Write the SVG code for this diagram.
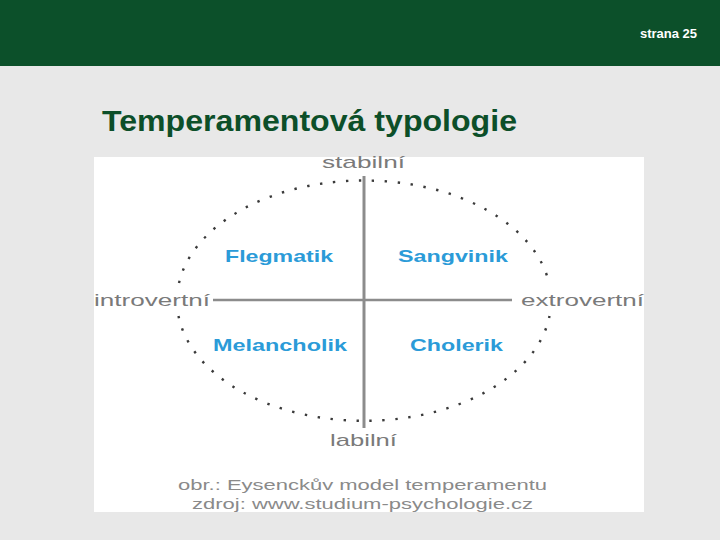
<svg xmlns="http://www.w3.org/2000/svg" width="720" height="540" viewBox="0 0 720 540">
<style>
.lbl{font-family:"Liberation Sans",Arial,sans-serif;font-size:17px;fill:#7a7a7a;}
.typ{font-family:"Liberation Sans",Arial,sans-serif;font-size:17px;font-weight:bold;fill:#2b9bd8;}
.cap{font-family:"Liberation Sans",Arial,sans-serif;font-size:15px;fill:#8a8a8a;}
.axis{stroke:#8c8c8c;fill:none;}
.dots{fill:none;stroke:#3a3a3a;stroke-width:2.4;stroke-dasharray:2.4 10.6;}
</style>
<rect x="0" y="0" width="720" height="540" fill="#e8e8e8"/>
<rect x="0" y="0" width="720" height="66" fill="#0c502a"/>
<text x="697" y="38" text-anchor="end" font-family="Liberation Sans,Arial,sans-serif" font-size="13" font-weight="bold" fill="#ffffff">strana 25</text>
<text x="102" y="131" font-family="Liberation Sans,Arial,sans-serif" font-size="29" font-weight="bold" fill="#0c4f29" textLength="415" lengthAdjust="spacingAndGlyphs">Temperamentová typologie</text>
<rect x="94" y="157" width="550" height="355" fill="#ffffff"/>
<g id="ellipse">
<path class="dots" d="M179,283 A187,120 0 0 1 549,283"/>
<path class="dots" d="M178.5,316 A187,120 0 0 0 549.5,316"/>
</g>
<g id="connectors">
<line class="axis" x1="364" y1="176" x2="364" y2="428" stroke-width="3"/>
<line class="axis" x1="213" y1="300" x2="512" y2="300" stroke-width="2.5"/>
</g>
<g id="stabilni"><text class="lbl" x="322" y="168" textLength="83" lengthAdjust="spacingAndGlyphs">stabilní</text></g>
<g id="labilni"><text class="lbl" x="330" y="446" textLength="67" lengthAdjust="spacingAndGlyphs">labilní</text></g>
<g id="introvertni"><text class="lbl" x="94" y="306" textLength="116" lengthAdjust="spacingAndGlyphs">introvertní</text></g>
<g id="extrovertni"><text class="lbl" x="521" y="306" textLength="123" lengthAdjust="spacingAndGlyphs">extrovertní</text></g>
<g id="flegmatik"><text class="typ" x="225" y="262" textLength="108" lengthAdjust="spacingAndGlyphs">Flegmatik</text></g>
<g id="sangvinik"><text class="typ" x="398" y="262" textLength="110" lengthAdjust="spacingAndGlyphs">Sangvinik</text></g>
<g id="melancholik"><text class="typ" x="213" y="351" textLength="134" lengthAdjust="spacingAndGlyphs">Melancholik</text></g>
<g id="cholerik"><text class="typ" x="410" y="351" textLength="93" lengthAdjust="spacingAndGlyphs">Cholerik</text></g>
<g id="caption">
<text class="cap" x="178" y="490" textLength="369" lengthAdjust="spacingAndGlyphs">obr.: Eysenckův model temperamentu</text>
<text class="cap" x="192" y="509" textLength="341" lengthAdjust="spacingAndGlyphs">zdroj: www.studium-psychologie.cz</text>
</g>
</svg>
